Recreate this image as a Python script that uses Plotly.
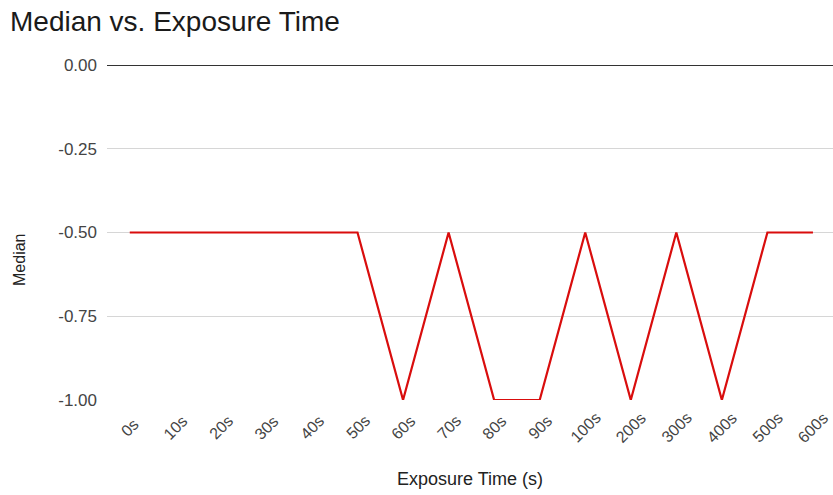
import plotly.graph_objects as go

exposure_times = ["0s", "10s", "20s", "30s", "40s", "50s", "60s", "70s", "80s",
                  "90s", "100s", "200s", "300s", "400s", "500s", "600s"]
median_values = [-0.5, -0.5, -0.5, -0.5, -0.5, -0.5, -1.0, -0.5, -1.0,
                 -1.0, -0.5, -1.0, -0.5, -1.0, -0.5, -0.5]
y_ticks = [0.0, -0.25, -0.5, -0.75, -1.0]
y_tick_labels = [f"{v:.2f}" for v in y_ticks]

FONT = "Liberation Sans, Arial, sans-serif"

fig = go.Figure(
    go.Scatter(
        x=exposure_times,
        y=median_values,
        mode="lines",
        line=dict(color="#d90d0d", width=2.2),
        hoverinfo="x+y",
    )
)

# Rotated category labels, centred under each category
tick_annotations = [
    dict(
        x=cat, xref="x",
        y=0, yref="paper",
        text=cat,
        showarrow=False,
        textangle=-45,
        xanchor="center", yanchor="middle",
        yshift=-27,
        font=dict(size=16, color="#444444", family=FONT),
    )
    for cat in exposure_times
]

axis_title_annotations = [
    dict(
        x=0, xref="paper", xshift=-87,
        y=0.418, yref="paper",
        text="Median",
        showarrow=False,
        textangle=-90,
        xanchor="center", yanchor="middle",
        font=dict(size=16, color="#222222", family=FONT),
    ),
]

fig.update_layout(
    width=833,
    height=495,
    margin=dict(l=107, r=0, t=65, b=95, autoexpand=False),
    paper_bgcolor="white",
    plot_bgcolor="white",
    showlegend=False,
    font=dict(family=FONT, color="#444444", size=16),
    title=dict(
        text="Median vs. Exposure Time",
        x=0.012, xanchor="left",
        y=0.957, yanchor="middle",
        font=dict(size=28, color="#1a1a1a", family=FONT),
    ),
    annotations=tick_annotations + axis_title_annotations,
)

fig.update_xaxes(
    type="category",
    range=[-0.5, 15.44],
    showticklabels=False,
    showgrid=False,
    showline=False,
    ticks="",
    automargin=False,
    title=dict(text="Exposure Time (s)", font=dict(size=18, color="#222222", family=FONT),
               standoff=72),
)

fig.update_yaxes(
    range=[-1.0, 0.0],
    tickvals=y_ticks,
    ticktext=y_tick_labels,
    showgrid=True,
    gridcolor="#d6d6d6",
    gridwidth=1,
    zeroline=True,
    zerolinecolor="#333333",
    zerolinewidth=1.3,
    ticks="",
    automargin=False,
    ticklabelstandoff=9,
    tickfont=dict(size=17, color="#444444", family=FONT),
)

fig.write_html("out.html")
